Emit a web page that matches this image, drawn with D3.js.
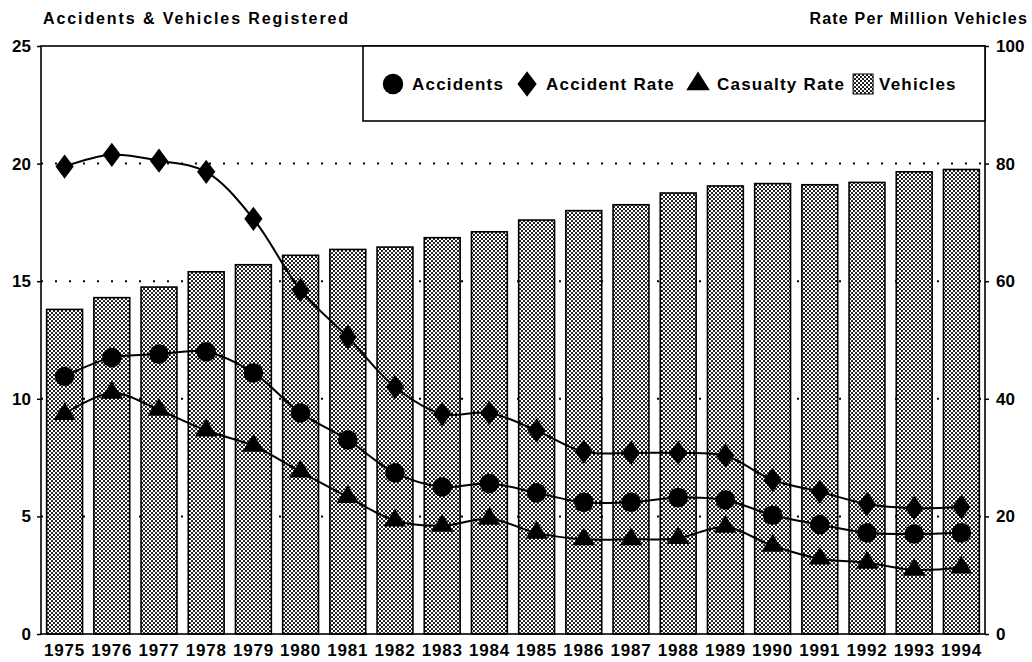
<!DOCTYPE html>
<html>
<head>
<meta charset="utf-8">
<script src="https://cdn.jsdelivr.net/npm/d3@7"></script>
<style>
  body { margin: 0; background: #fff; }
  svg text { font-family: "Liberation Sans", Arial, sans-serif; font-weight: bold; fill: #000; }
</style>
</head>
<body>
<div id="container"></div>
<script>
var years = ['1975','1976','1977','1978','1979','1980','1981','1982','1983','1984',
             '1985','1986','1987','1988','1989','1990','1991','1992','1993','1994']
var vehicles = [13.8,14.3,14.75,15.4,15.7,16.1,16.35,16.45,16.85,17.1,
                17.6,18.0,18.25,18.75,19.05,19.15,19.1,19.2,19.65,19.75]
var accidents = [10.95,11.75,11.9,12.0,11.1,9.4,8.25,6.85,6.25,6.4,
                 6.0,5.6,5.6,5.8,5.7,5.05,4.65,4.3,4.25,4.3]
var accidentRate = [79.5,81.5,80.5,78.6,70.6,58.5,50.5,42.0,37.4,37.6,
                    34.6,31.0,30.8,30.8,30.3,26.2,24.2,22.1,21.4,21.6]
var casualtyRate = [37.4,41.0,38.1,34.6,32.0,27.6,23.3,19.3,18.4,19.6,
                    17.2,16.1,16.1,16.3,18.2,15.0,12.8,12.1,10.9,11.3]
var leftTicks = [0,5,10,15,20,25]
var rightTicks = [0,20,40,60,80,100]

var W = 1032, H = 662
var m = {top: 46, right: 47, bottom: 28, left: 41}
var iw = W - m.left - m.right, ih = H - m.top - m.bottom

var svg = d3.select('#container').append('svg').attr('width', W).attr('height', H)

var defs = svg.append('defs')
var pat = defs.append('pattern').attr('id', 'dots')
  .attr('width', 4).attr('height', 4).attr('patternUnits', 'userSpaceOnUse')
pat.append('rect').attr('width', 4).attr('height', 4).attr('fill', '#fff')
pat.append('circle').attr('cx', 1).attr('cy', 1).attr('r', 1.05).attr('fill', '#000')
pat.append('circle').attr('cx', 3).attr('cy', 3).attr('r', 1.05).attr('fill', '#000')

var g = svg.append('g').attr('transform', 'translate(' + m.left + ',' + m.top + ')')

var x = d3.scaleBand().domain(years).range([0, iw]).paddingInner(0.24).paddingOuter(0.12)
var yL = d3.scaleLinear().domain([0, 25]).range([ih, 0])
var yR = d3.scaleLinear().domain([0, 100]).range([ih, 0])
var cx = function (d, i) { return x(years[i]) + x.bandwidth() / 2 }

// dotted grid
g.selectAll('line.grid').data([5, 10, 15, 20]).enter().append('line')
  .attr('class', 'grid')
  .attr('x1', 0).attr('x2', iw)
  .attr('y1', yL).attr('y2', yL)
  .attr('stroke', '#000').attr('stroke-width', 2)
  .attr('stroke-dasharray', '2,12')

// bars
g.selectAll('rect.bar').data(vehicles).enter().append('rect')
  .attr('class', 'bar')
  .attr('x', function (d, i) { return x(years[i]) })
  .attr('width', x.bandwidth())
  .attr('y', yL)
  .attr('height', function (d) { return ih - yL(d) })
  .attr('fill', 'url(#dots)')
  .attr('stroke', '#000').attr('stroke-width', 1.6)

// frame
g.append('rect').attr('width', iw).attr('height', ih)
  .attr('fill', 'none').attr('stroke', '#000').attr('stroke-width', 1.6)

// axes
var axL = g.append('g').call(d3.axisLeft(yL).tickValues(leftTicks).tickSize(4).tickPadding(6))
var axR = g.append('g').attr('transform', 'translate(' + iw + ',0)')
  .call(d3.axisRight(yR).tickValues(rightTicks).tickSize(4).tickPadding(7))
var axB = g.append('g').attr('transform', 'translate(0,' + ih + ')')
  .call(d3.axisBottom(x).tickSize(0).tickPadding(8))
;[axL, axR, axB].forEach(function (a) {
  a.select('.domain').remove()
  a.selectAll('text').style('font-size', '17px').attr('font-family', null)
  a.selectAll('line').attr('stroke-width', 1.5)
})
axB.selectAll('text').style('letter-spacing', '0.8px').attr('dy', '0.85em')

// lines + markers
var line = function (ys, vals) {
  return d3.line()
    .x(function (d, i) { return cx(d, i) })
    .y(function (d) { return ys(d) })
    .curve(d3.curveCatmullRom.alpha(0.5))(vals)
}
var series = [
  {vals: accidentRate, scale: yR, sym: d3.symbolDiamond, size: 170, sx: 1.3},
  {vals: accidents, scale: yL, sym: d3.symbolCircle, size: 300, sx: 1},
  {vals: casualtyRate, scale: yR, sym: d3.symbolTriangle, size: 180, sx: 1.1}
]
series.forEach(function (s) {
  g.append('path').attr('d', line(s.scale, s.vals))
    .attr('fill', 'none').attr('stroke', '#000').attr('stroke-width', 2)
  g.selectAll(null).data(s.vals).enter().append('path')
    .attr('transform', function (d, i) {
      return 'translate(' + cx(d, i) + ',' + s.scale(d) + ') scale(' + s.sx + ',1)'
    })
    .attr('d', d3.symbol().type(s.sym).size(s.size))
    .attr('fill', '#000')
})

// legend
var lg = svg.append('g')
lg.append('rect').attr('x', 363).attr('y', m.top).attr('width', W - m.right - 363).attr('height', 75)
  .attr('fill', '#fff').attr('stroke', '#000').attr('stroke-width', 1.6)
var items = [
  {label: 'Accidents', sym: d3.symbolCircle, size: 330, sx: 1},
  {label: 'Accident Rate', sym: d3.symbolDiamond, size: 190, sx: 1.3},
  {label: 'Casualty Rate', sym: d3.symbolTriangle, size: 200, sx: 1.1},
  {label: 'Vehicles', swatch: true}
]
var lx = 370, ly = 84
items.forEach(function (it) {
  var tx
  if (it.swatch) {
    lg.append('rect').attr('x', lx + 8).attr('y', ly - 10).attr('width', 20).attr('height', 20)
      .attr('fill', 'url(#dots)').attr('stroke', '#000').attr('stroke-width', 1)
    tx = lx + 34
  } else {
    lg.append('path').attr('transform', 'translate(' + (lx + 23) + ',' + ly + ') scale(' + it.sx + ',1)')
      .attr('d', d3.symbol().type(it.sym).size(it.size))
    tx = lx + 42
  }
  var t = lg.append('text').attr('x', tx).attr('y', ly).attr('dy', '0.36em')
    .style('font-size', '17px').style('letter-spacing', '1.2px').text(it.label)
  lx = tx + t.node().getComputedTextLength()
})

// titles
svg.append('text').attr('x', 43).attr('y', 24).style('font-size', '16px')
  .style('letter-spacing', '1.9px').text('Accidents & Vehicles Registered')
svg.append('text').attr('x', 1028).attr('y', 24).attr('text-anchor', 'end').style('font-size', '16px')
  .style('letter-spacing', '1.2px').text('Rate Per Million Vehicles')
</script>
</body>
</html>
